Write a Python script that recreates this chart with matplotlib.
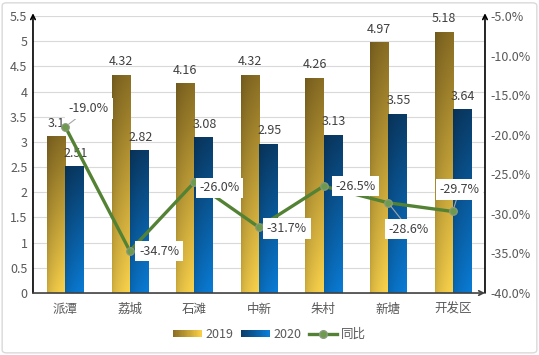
import numpy as np
import matplotlib
matplotlib.use("Agg")
import matplotlib.pyplot as plt
from matplotlib.patches import FancyBboxPatch, Rectangle
from matplotlib.lines import Line2D
from matplotlib.legend_handler import HandlerBase
from matplotlib.colors import LinearSegmentedColormap
from matplotlib.ticker import FuncFormatter, MultipleLocator

plt.rcParams['font.family'] = ['Noto Sans CJK SC', 'DejaVu Sans']

regions = ["派潭", "荔城", "石滩", "中新", "朱村", "新塘", "开发区"]
v2019 = [3.1, 4.32, 4.16, 4.32, 4.26, 4.97, 5.18]
v2020 = [2.51, 2.82, 3.08, 2.95, 3.13, 3.55, 3.64]
yoy = [-19.0, -34.7, -26.0, -31.7, -26.5, -28.6, -29.7]

# label offsets for the 同比 labels (points), and whether a leader line is drawn
yoy_offsets = [(17, 13), (21, 0), (18, -4), (20, -1), (23, 0), (15, -19), (5, 16)]
yoy_leader = [True, False, False, False, False, True, True]

GOLD_DARK, GOLD_LIGHT = "#8a6e24", "#fcd44c"
BLUE_DARK, BLUE_LIGHT = "#0a3c68", "#0a7cd6"
LINE_COLOR = "#548235"
TEXT_COLOR = "#595959"


def gradient(dark, light, n=64):
    h = np.linspace(0, 1, n)
    v = np.linspace(0, 1, n)
    cmap = LinearSegmentedColormap.from_list("g", [dark, light])
    img = cmap(np.repeat(v[:, None], n, axis=1))
    shade = 0.78 + 0.22 * np.sqrt(h)
    img[..., :3] *= shade[None, :, None]
    return np.clip(img, 0, 1)


def fill_bars(ax, bars, dark, light):
    img = gradient(dark, light)
    for b in bars:
        x0 = b.get_x()
        ax.imshow(img, extent=[x0, x0 + b.get_width(), 0, b.get_height()],
                  origin="upper", aspect="auto", zorder=2, interpolation="bilinear")
        b.set_visible(False)


class GradHandler(HandlerBase):
    def __init__(self, dark, light):
        super().__init__()
        self.cmap = LinearSegmentedColormap.from_list("lg", [dark, light])

    def create_artists(self, legend, orig_handle, xdescent, ydescent,
                       width, height, fontsize, trans):
        n = 24
        out = []
        for i in range(n):
            out.append(Rectangle((-xdescent + i * width / n, -ydescent),
                                 width / n * 1.1, height, lw=0,
                                 color=self.cmap(i / (n - 1)), transform=trans))
        return out


fig = plt.figure(figsize=(5.39, 3.55), dpi=100)
ax = fig.add_axes([0.0612, 0.1746, 0.8386, 0.7804])

x = np.arange(len(regions))
w = 0.28
b19 = ax.bar(x - w / 2, v2019, w, color=GOLD_DARK)
b20 = ax.bar(x + w / 2, v2020, w, color=BLUE_DARK)
fill_bars(ax, b19, GOLD_DARK, GOLD_LIGHT)
fill_bars(ax, b20, BLUE_DARK, BLUE_LIGHT)

for xi, v in zip(x - w / 2, v2019):
    ax.annotate(f"{v:g}", (xi, v), xytext=(0, 5), textcoords="offset points",
                ha="center", va="bottom", fontsize=9, color="#404040", zorder=3)
for xi, v in zip(x + w / 2, v2020):
    ax.annotate(f"{v:g}", (xi, v), xytext=(1, 5), textcoords="offset points",
                ha="center", va="bottom", fontsize=9, color="#404040", zorder=3)

ax.set_xlim(-0.5, len(regions) - 0.5)
ax.set_ylim(0, 5.5)
ax.yaxis.set_major_locator(MultipleLocator(0.5))
ax.yaxis.set_major_formatter(FuncFormatter(lambda v, p: f"{v:g}"))
ax.set_xticks(x)
ax.set_xticklabels(regions, fontsize=9.5)
ax.grid(axis="y", color="#d9d9d9", lw=0.8)
ax.set_axisbelow(True)
ax.tick_params(length=0, colors=TEXT_COLOR, labelsize=9)
ax.tick_params(axis="y", pad=4)
ax.tick_params(axis="x", pad=7)
for s in ax.spines.values():
    s.set_visible(False)

ax2 = ax.twinx()
ax2.plot(x, yoy, color=LINE_COLOR, lw=2.4, marker="o", ms=5.5,
         mfc="#6e9a4e", mec="#8a9a80", mew=0.8, zorder=4)
ax2.set_ylim(-40, -5)
ax2.yaxis.set_major_locator(MultipleLocator(5))
ax2.yaxis.set_major_formatter(FuncFormatter(lambda v, p: f"{v:.1f}%"))
ax2.tick_params(length=0, colors=TEXT_COLOR, labelsize=9, pad=4)
for s in ax2.spines.values():
    s.set_visible(False)

for xi, v, off, lead in zip(x, yoy, yoy_offsets, yoy_leader):
    arrow = dict(arrowstyle="-", color="#a6a6a6", lw=0.8, shrinkA=0, shrinkB=3) if lead else None
    ax2.annotate(f"{v:.1f}%", (xi, v), xytext=off, textcoords="offset points",
                 ha="center", va="center", fontsize=9, color="#404040", zorder=5,
                 bbox=dict(boxstyle="square,pad=0.3", fc="white", ec="none"),
                 arrowprops=arrow)

# axis lines with arrow heads
arr = dict(arrowstyle="->", lw=1.2, shrinkA=0, shrinkB=0, mutation_scale=8)
ax2.annotate("", xy=(0, 1.01), xytext=(0, 0), xycoords="axes fraction",
             arrowprops=dict(arr, color="black"), annotation_clip=False)
ax2.annotate("", xy=(1, 1.01), xytext=(1, 0), xycoords="axes fraction",
             arrowprops=dict(arr, color="black"), annotation_clip=False)
ax2.annotate("", xy=(1.0, 0), xytext=(0, 0), xycoords="axes fraction",
             arrowprops=dict(arr, color="#404040"), annotation_clip=False)

h19 = Rectangle((0, 0), 1, 1)
h20 = Rectangle((0, 0), 1, 1)
hline = Line2D([], [], color=LINE_COLOR, lw=2.4, marker="o", ms=5.5,
               mfc="#6e9a4e", mec="#8a9a80")
fig.legend([h19, h20, hline], ["2019", "2020", "同比"], loc="center",
           bbox_to_anchor=(0.5, 0.058), ncol=3, frameon=False, fontsize=9,
           handlelength=2.3, handleheight=0.6, handletextpad=0.3,
           columnspacing=0.6, labelcolor=TEXT_COLOR,
           handler_map={h19: GradHandler("#8a6e24", "#f8cd45"),
                        h20: GradHandler("#0a3c68", "#0a7cd6")})

fig.patches.append(FancyBboxPatch((0.004, 0.006), 0.992, 0.986,
                                  boxstyle="round,pad=0,rounding_size=0.008",
                                  transform=fig.transFigure, fill=False,
                                  ec="#d9d9d9", lw=1))

fig.savefig("out.png", dpi=100)
